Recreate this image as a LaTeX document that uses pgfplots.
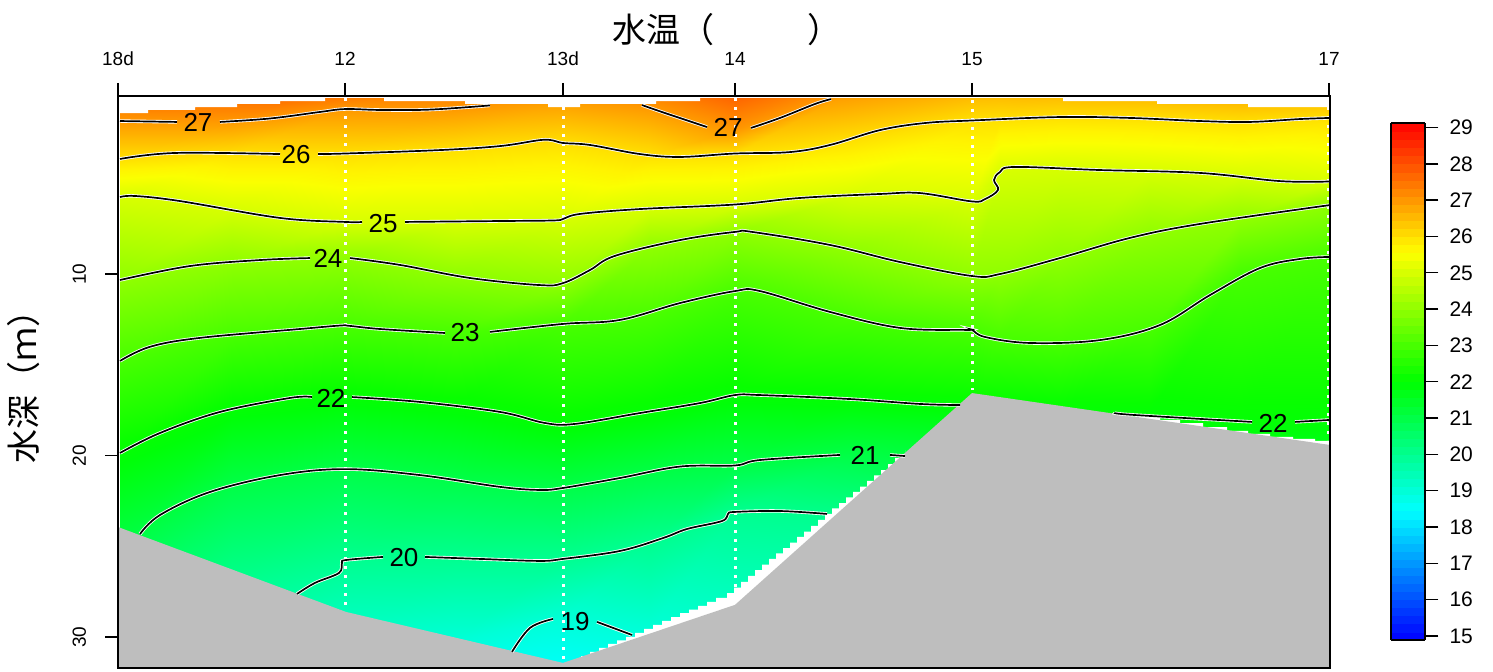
\documentclass[border=0pt]{standalone}
\usepackage{fontspec}
\setmainfont{Liberation Sans}
\newfontfamily\cjk{Noto Sans CJK JP}
\usepackage{pgfplots}
\usepackage{pgfplotstable}
\pgfplotsset{compat=1.18}
\usepgfplotslibrary{patchplots}

% blue-cyan-green-yellow-red, 64 steps like the original legend
\pgfplotsset{
  colormap={base5}{rgb255=(0,0,255) rgb255=(0,255,255) rgb255=(0,255,0) rgb255=(255,255,0) rgb255=(255,0,0)},
  colormap={temp64}{samples of colormap=(64 of base5)},
}

% field mesh: one row per isotherm, x = station distance, y = depth (m), T = temperature
\pgfplotstableread[row sep=\\]{
x y T \\
120 -0.98 28 \\ 232 -0.70 28 \\ 345 -0.70 28 \\ 455 -1.25 28 \\ 563 -1.53 28 \\ 650 -1.25 28 \\ 735 -0.42 28 \\ 850 -2.35 28 \\ 972 -3.45 28 \\ 1000 -3.45 28 \\ 1060 -3.45 28 \\ 1150 -3.45 28 \\ 1240 -2.90 28 \\ 1329 -3.18 28 \\
120 1.56 27 \\ 232 1.56 27 \\ 345 0.90 27 \\ 455 0.84 27 \\ 563 0.29 27 \\ 650 0.79 27 \\ 735 2.06 27 \\ 850 -0.04 27 \\ 972 -0.98 27 \\ 1000 -1.09 27 \\ 1060 -0.98 27 \\ 1150 -0.81 27 \\ 1240 -0.48 27 \\ 1329 -0.70 27 \\
120 3.65 26 \\ 232 3.38 26 \\ 345 3.35 26 \\ 455 3.10 26 \\ 563 2.77 26 \\ 650 3.43 26 \\ 735 3.35 26 \\ 850 2.61 26 \\ 972 1.53 26 \\ 1000 1.45 26 \\ 1060 1.34 26 \\ 1150 1.39 26 \\ 1240 1.61 26 \\ 1329 1.39 26 \\
120 5.75 25 \\ 232 6.41 25 \\ 345 7.12 25 \\ 455 7.12 25 \\ 563 6.96 25 \\ 650 6.35 25 \\ 735 6.16 25 \\ 850 5.69 25 \\ 972 5.99 25 \\ 1000 4.37 25 \\ 1060 4.15 25 \\ 1150 4.31 25 \\ 1240 4.59 25 \\ 1329 4.89 25 \\
120 10.32 24 \\ 232 9.33 24 \\ 345 9.11 24 \\ 455 10.04 24 \\ 563 10.49 24 \\ 650 8.50 24 \\ 735 7.67 24 \\ 850 8.67 24 \\ 972 10.10 24 \\ 1000 9.99 24 \\ 1060 9.11 24 \\ 1150 7.79 24 \\ 1240 7.01 24 \\ 1329 6.19 24 \\
120 14.78 23 \\ 232 13.35 23 \\ 345 12.85 23 \\ 455 13.24 23 \\ 563 12.74 23 \\ 650 12.36 23 \\ 735 10.93 23 \\ 850 12.36 23 \\ 972 13.07 23 \\ 1000 13.52 23 \\ 1060 13.74 23 \\ 1150 13.02 23 \\ 1240 9.88 23 \\ 1329 9.05 23 \\
120 19.85 22 \\ 232 17.43 22 \\ 345 16.77 22 \\ 455 17.26 22 \\ 563 18.25 22 \\ 650 17.54 22 \\ 735 16.66 22 \\ 850 16.88 22 \\ 972 17.21 22 \\ 1000 17.26 22 \\ 1060 17.48 22 \\ 1150 17.59 22 \\ 1240 18.09 22 \\ 1329 18.03 22 \\
120 25.09 21 \\ 232 21.72 21 \\ 345 20.73 21 \\ 455 21.34 21 \\ 563 21.78 21 \\ 650 21.07 21 \\ 735 20.57 21 \\ 850 20.02 21 \\ 972 20.79 21 \\ 1000 20.79 21 \\ 1060 21.34 21 \\ 1150 21.89 21 \\ 1240 22.44 21 \\ 1329 22.44 21 \\
120 30.16 20 \\ 232 27.12 20 \\ 345 25.75 20 \\ 455 25.64 20 \\ 563 25.69 20 \\ 650 24.81 20 \\ 735 23.10 20 \\ 850 23.49 20 \\ 972 24.37 20 \\ 1000 24.37 20 \\ 1060 25.20 20 \\ 1150 25.75 20 \\ 1240 26.30 20 \\ 1329 26.30 20 \\
120 35.11 19 \\ 232 32.36 19 \\ 345 30.70 19 \\ 455 30.16 19 \\ 563 29.00 19 \\ 650 29.60 19 \\ 735 30.16 19 \\ 850 30.16 19 \\ 972 30.16 19 \\ 1000 30.16 19 \\ 1060 30.16 19 \\ 1150 30.16 19 \\ 1240 30.16 19 \\ 1329 30.16 19 \\
120 40.07 18 \\ 232 37.31 18 \\ 345 35.66 18 \\ 455 35.11 18 \\ 563 34.56 18 \\ 650 35.11 18 \\ 735 35.66 18 \\ 850 34.56 18 \\ 972 34.56 18 \\ 1000 34.56 18 \\ 1060 34.56 18 \\ 1150 34.56 18 \\ 1240 34.56 18 \\ 1329 34.56 18 \\
}\fieldtbl

\pgfplotsset{
  ct/.style={black, line width=0.85pt, smooth, tension=0.6, no marks,
    preaction={draw=white, line width=1.7pt}},
  stn/.style={white, line width=1.5pt, dash pattern=on 1.5pt off 3pt, no marks},
}
\tikzset{clab/.style={font=\fontsize{13}{13}\selectfont, inner sep=0pt}}

\begin{document}
\begin{tikzpicture}[x=1pt,y=1pt]
\useasboundingbox (0,0) rectangle (746.5,336);
\begin{axis}[
  at={(59pt,2pt)}, anchor=south west,
  scale only axis,
  width=606pt, height=286pt,
  xmin=118, xmax=1330,
  ymin=0.18, ymax=31.7,
  y dir=reverse,
  axis on top,
  axis line style={line width=1pt},
  tick align=outside,
  major tick length=6.5pt,
  tick style={black, line width=0.7pt},
  xtick={118,345,563,735,972,1329},
  xticklabels={18d,12,13d,14,15,17},
  xtick pos=top, xticklabel pos=top,
  ytick={10,20,30},
  ytick pos=left, yticklabel pos=left,
  /pgf/number format/assume math mode=true,
  tick label style={font=\fontsize{9.5}{10}\selectfont},
  yticklabel style={rotate=90, anchor=south, yshift=6pt},
  xticklabel style={yshift=5pt},
  colormap name=temp64,
  point meta min=14.89, point meta max=29.11,
  colorbar sampled,
  colorbar style={
    at={(1.0503,0.04895)}, anchor=south west,
    scale only axis, width=17.25pt, height=258.25pt,
    samples=65,
    y dir=normal,
    ytick={15,16,...,29},
    ytick pos=right, yticklabel pos=right,
    tick align=outside,
    major tick length=6.5pt,
    axis line style={line width=1pt},
    tick style={black, line width=0.7pt},
    /pgf/number format/assume math mode=true,
    yticklabel style={font=\fontsize{10.5}{11}\selectfont, rotate=0, anchor=west, xshift=2pt, yshift=0pt},
    xtick=\empty,
  },
]
% temperature field
\addplot[surf, shader=interp, mesh/cols=14, mesh/ordering=x varies]
  table[x=x, y=y, point meta=\thisrow{T}] {\fieldtbl};

% white strip at the surface, no data there
\addplot[const plot, fill=white, draw=none, no marks, forget plot] coordinates {
  (118,1.12)(148,0.95)(195,0.79)(237,0.62)(280,0.46)(325,0.29)(384,0.46)(465,0.62)
  (548,0.79)(580,0.62)(656,0.46)(700,0.29)(1063,0.46)(1157,0.62)(1248,0.79)(1330,0.79)
  (1330,-1)(118,-1)};
% white steps above the bottom
\addplot[const plot, fill=white, draw=none, no marks, forget plot] coordinates {
  (572,31.26)(581,31.04)(590,30.81)(599,30.59)(608,30.37)(617,30.18)(626,29.99)(635,29.77)
  (644,29.55)(653,29.33)(662,29.11)(671,28.89)(680,28.67)(689,28.48)(698,28.28)(707,28.06)
  (716,27.84)(727,27.57)(734,27.27)(741,26.96)(748,26.63)(755,26.30)(762,26.00)(769,25.69)
  (776,25.39)(783,25.09)(790,24.79)(797,24.48)(804,24.18)(811,23.87)(818,23.54)(825,23.21)
  (832,22.91)(839,22.61)(846,22.30)(853,22.00)(860,21.70)(867,21.39)(874,21.09)(881,20.79)
  (888,20.46)(895,20.13)(905,19.69)(905,33)(572,33)};
\addplot[const plot, fill=white, draw=none, no marks, forget plot] coordinates {
  (1137,17.87)(1160,18.03)(1180,18.20)(1203,18.42)(1227,18.64)(1248,18.80)(1270,18.97)
  (1293,19.08)(1315,19.19)(1330,19.19)(1330,22.44)(1137,22.44)};

% bottom
\addplot[fill={rgb,255:red,190;green,190;blue,190}, draw=none, no marks, forget plot] coordinates {
  (118,23.93)(346,28.61)(563,31.42)(735,28.22)(972,16.55)(1330,19.41)(1330,31.7)(118,31.7)} --cycle;

% stations
\addplot[stn, forget plot] coordinates {(345,0.29)(345,28.30)};
\addplot[stn, forget plot] coordinates {(563,0.79)(563,31.25)};
\addplot[stn, forget plot] coordinates {(735,0.29)(735,27.29)};
\addplot[stn, forget plot] coordinates {(972,0.40)(972,16.40)};
\addplot[stn, forget plot] coordinates {(1328.5,0.79)(1328.5,19.14)};

% isotherms
\addplot[ct] coordinates {(120,1.56)(177,1.61)};
\addplot[ct] coordinates {(220,1.61)(270,1.42)(320,1.06)(345,0.90)(380,0.95)(430,0.93)(490,0.70)};
\addplot[ct] coordinates {(642,0.68)(665,1.12)(707,1.89)};
\addplot[ct] coordinates {(751,1.94)(780,1.39)(815,0.62)(831,0.35)};
\addplot[ct] coordinates {(120,3.65)(175,3.32)(280,3.38)};
\addplot[ct] coordinates {(318,3.38)(345,3.35)(440,3.16)(500,2.94)(540,2.61)(553,2.63)(563,2.77)(590,2.88)(640,3.38)(680,3.54)(735,3.35)(790,3.27)(830,2.88)(880,2.06)(925,1.67)(972,1.53)(1060,1.34)(1130,1.39)(1200,1.56)(1250,1.61)(1300,1.45)(1330,1.39)};
\addplot[ct] coordinates {(120,5.75)(135,5.69)(180,5.97)(280,6.90)(345,7.12)(362,7.12)};
\addplot[ct] coordinates {(405,7.12)(500,7.07)(553,7.04)(563,6.96)(580,6.68)(640,6.41)(735,6.16)(800,5.80)(880,5.58)(920,5.53)(972,5.99)(985,5.86)(998,5.36)(994,4.81)(1000,4.37)(1015,4.09)(1100,4.26)(1200,4.42)(1280,4.87)(1330,4.89)};
\addplot[ct] coordinates {(120,10.32)(190,9.55)(260,9.22)(310,9.11)};
\addplot[ct] coordinates {(350,9.11)(400,9.49)(470,10.21)(540,10.60)(563,10.49)(590,9.77)(615,8.99)(680,8.12)(735,7.67)(752,7.67)(830,8.39)(900,9.33)(972,10.10)(1000,9.99)(1060,9.11)(1130,8.00)(1200,7.23)(1330,6.19)};
\addplot[ct] coordinates {(120,14.78)(150,14.00)(200,13.51)(300,13.02)(340,12.83)(350,12.85)(380,13.02)(445,13.24)};
\addplot[ct] coordinates {(490,13.18)(563,12.74)(620,12.52)(680,11.59)(735,10.93)(760,10.93)(830,12.08)(900,12.96)(965,13.07)(972,13.07)(985,13.46)(1030,13.79)(1100,13.63)(1160,12.80)(1210,11.15)(1260,9.66)(1300,9.16)(1330,9.05)};
\addplot[ct] coordinates {(120,19.85)(160,18.75)(220,17.59)(290,16.82)(312,16.77)};
\addplot[ct] coordinates {(352,16.77)(420,17.04)(500,17.59)(545,18.20)(575,18.25)(640,17.65)(700,17.10)(735,16.66)(760,16.66)(850,16.88)(920,17.15)(960,17.21)};
\addplot[ct] coordinates {(1115,17.65)(1135,17.76)(1252,18.14)};
\addplot[ct] coordinates {(1295,18.14)(1330,18.03)};
\addplot[ct] coordinates {(140,24.32)(160,23.27)(210,22.00)(280,21.07)(345,20.74)(420,21.07)(500,21.72)(540,21.89)(563,21.78)(620,21.23)(680,20.60)(735,20.54)(760,20.24)(840,19.96)};
\addplot[ct] coordinates {(890,19.96)(905,20.02)};
\addplot[ct] coordinates {(297,27.62)(315,27.01)(339,26.46)(342,25.91)(346,25.75)(383,25.58)};
\addplot[ct] coordinates {(425,25.58)(480,25.69)(540,25.80)(563,25.69)(620,25.25)(663,24.54)(687,24.04)(722,23.60)(728,23.21)(735,23.10)(780,23.05)(827,23.21)};
\addplot[ct] coordinates {(512,30.81)(530,29.49)(553,29.00)};
\addplot[ct] coordinates {(597,29.16)(632,29.88)};

\node[clab] at (axis cs:198,1.61) {27};
\node[clab] at (axis cs:728,1.89) {27};
\node[clab] at (axis cs:296,3.43) {26};
\node[clab] at (axis cs:383,7.23) {25};
\node[clab] at (axis cs:328,9.11) {24};
\node[clab] at (axis cs:465,13.24) {23};
\node[clab] at (axis cs:331,16.82) {22};
\node[clab] at (axis cs:1273,18.20) {22};
\node[clab] at (axis cs:865,19.96) {21};
\node[clab] at (axis cs:404,25.64) {20};
\node[clab] at (axis cs:575,29.16) {19};
\end{axis}
\node[font=\cjk\fontsize{17}{17}\selectfont, inner sep=0pt] at (363.5,321) {水温（\hspace{47pt}）};
\node[font=\cjk\fontsize{17}{17}\selectfont, inner sep=0pt, rotate=90] at (12,146.5) {水深（ｍ）};
\end{tikzpicture}
\end{document}
